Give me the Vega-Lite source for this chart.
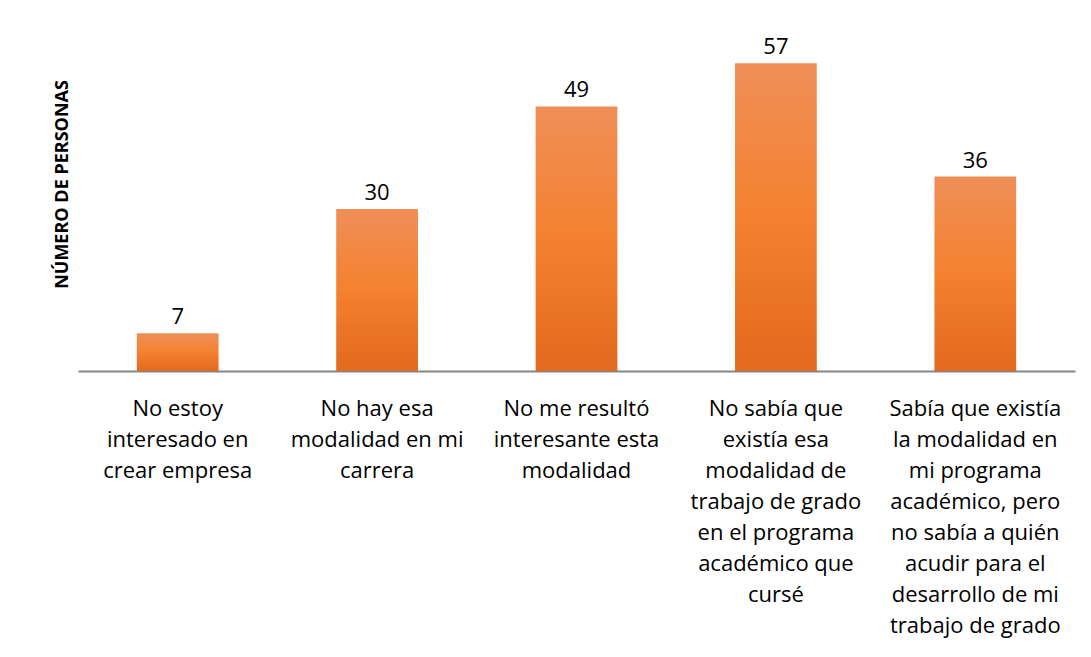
{
  "$schema": "https://vega.github.io/schema/vega-lite/v6.json",
  "width": 997,
  "height": 324,
  "autosize": {"type": "none"},
  "padding": {"left": 78, "top": 47, "right": 16, "bottom": 286},
  "background": "white",
  "config": {
    "view": {"stroke": null},
    "font": "Open Sans"
  },
  "data": {
    "values": [
      {"categoria": "No estoy|interesado en|crear empresa", "personas": 7},
      {"categoria": "No hay esa|modalidad en mi|carrera", "personas": 30},
      {"categoria": "No me resultó|interesante esta|modalidad", "personas": 49},
      {"categoria": "No sabía que|existía esa|modalidad de|trabajo de grado|en el programa|académico que|cursé", "personas": 57},
      {"categoria": "Sabía que existía|la modalidad en|mi programa|académico, pero|no sabía a quién|acudir para el|desarrollo de mi|trabajo de grado", "personas": 36}
    ]
  },
  "encoding": {
    "x": {
      "field": "categoria",
      "type": "nominal",
      "sort": null,
      "scale": {"paddingInner": 0.59, "paddingOuter": 0.295},
      "axis": {
        "title": null,
        "labelAngle": 0,
        "labelExpr": "split(datum.label, '|')",
        "labelFont": "Open Sans",
        "labelFontSize": 22,
        "labelColor": "#000000",
        "labelLineHeight": 31,
        "labelLimit": 0,
        "labelPadding": 27,
        "ticks": false,
        "domainColor": "#868686",
        "domainWidth": 2
      }
    },
    "y": {
      "field": "personas",
      "type": "quantitative",
      "scale": {"domain": [0, 60], "nice": false},
      "axis": {
        "title": "NÚMERO DE PERSONAS",
        "titleFont": "Open Sans",
        "titleFontSize": 18,
        "titleFontWeight": "bold",
        "titleColor": "#000000",
        "titleX": -16,
        "titleY": 137,
        "titleAngle": -90,
        "titleAlign": "center",
        "titleBaseline": "middle",
        "labels": false,
        "ticks": false,
        "domain": false,
        "grid": false
      }
    }
  },
  "layer": [
    {
      "mark": {
        "type": "bar",
        "color": {
          "gradient": "linear",
          "x1": 0, "y1": 0, "x2": 0, "y2": 1,
          "stops": [
            {"offset": 0, "color": "#EF8F58"},
            {"offset": 0.5, "color": "#F4812F"},
            {"offset": 1, "color": "#E2691E"}
          ]
        }
      }
    },
    {
      "mark": {
        "type": "text",
        "baseline": "alphabetic",
        "dy": -9,
        "fontSize": 22,
        "font": "Open Sans",
        "color": "#000000"
      },
      "encoding": {
        "text": {"field": "personas", "type": "quantitative"}
      }
    }
  ]
}
